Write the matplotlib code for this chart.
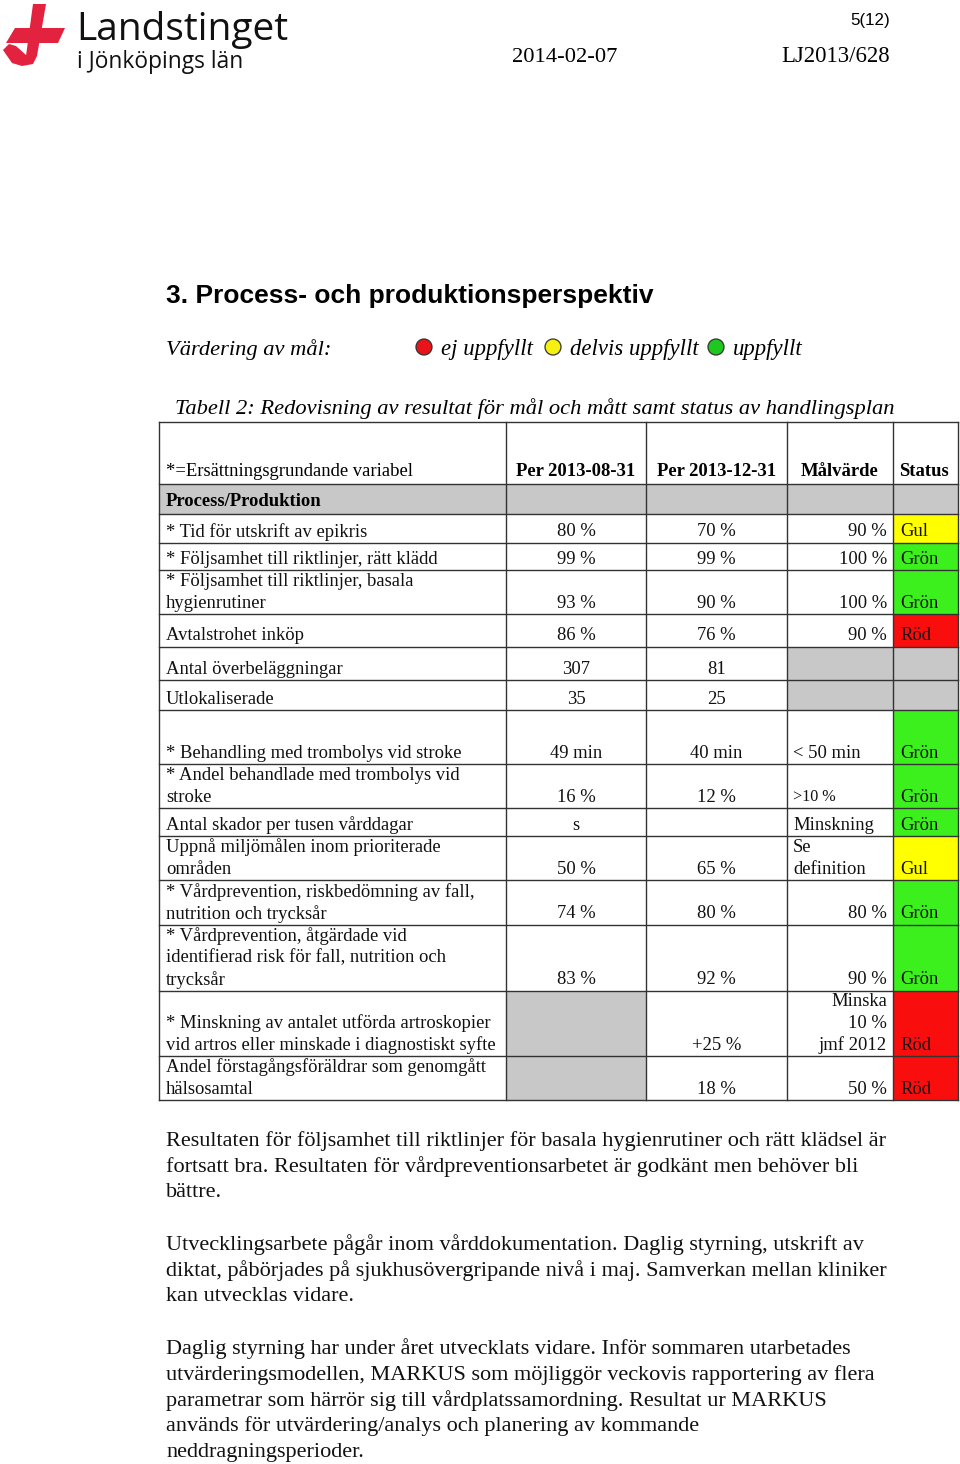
import matplotlib
matplotlib.use("Agg")
import matplotlib.pyplot as plt
from matplotlib.patches import Polygon, Rectangle, Circle

# ── table content ──
header = ["*=Ersättningsgrundande variabel", "Per 2013-08-31", "Per 2013-12-31", "Målvärde", "Status"]
section = "Process/Produktion"

labels = [
    "* Tid för utskrift av epikris",
    "* Följsamhet till riktlinjer, rätt klädd",
    "* Följsamhet till riktlinjer, basala\nhygienrutiner",
    "Avtalstrohet inköp",
    "Antal överbeläggningar",
    "Utlokaliserade",
    "* Behandling med trombolys vid stroke",
    "* Andel behandlade med trombolys vid\nstroke",
    "Antal skador per tusen vårddagar",
    "Uppnå miljömålen inom prioriterade\nområden",
    "* Vårdprevention, riskbedömning av fall,\nnutrition och trycksår",
    "* Vårdprevention, åtgärdade vid\nidentifierad risk för fall, nutrition och\ntrycksår",
    "* Minskning av antalet utförda artroskopier\nvid artros eller minskade i diagnostiskt syfte",
    "Andel förstagångsföräldrar som genomgått\nhälsosamtal",
]
per_aug = ["80 %", "99 %", "93 %", "86 %", "307", "35", "49 min", "16 %", "s", "50 %",
           "74 %", "83 %", None, None]
per_dec = ["70 %", "99 %", "90 %", "76 %", "81", "25", "40 min", "12 %", "", "65 %",
           "80 %", "92 %", "+25 %", "18 %"]
malvarde = ["90 %", "100 %", "100 %", "90 %", None, None, "< 50 min", ">10 %", "Minskning",
            "Se\ndefinition", "80 %", "90 %", "Minska\n10 %\njmf 2012", "50 %"]
status = ["Gul", "Grön", "Grön", "Röd", None, None, "Grön", "Grön", "Grön", "Gul",
          "Grön", "Grön", "Röd", "Röd"]

paragraphs = [
    "Resultaten för följsamhet till riktlinjer för basala hygienrutiner och rätt klädsel är\n"
    "fortsatt bra. Resultaten för vårdpreventionsarbetet är godkänt men behöver bli\n"
    "bättre.",
    "Utvecklingsarbete pågår inom vårddokumentation. Daglig styrning, utskrift av\n"
    "diktat, påbörjades på sjukhusövergripande nivå i maj. Samverkan mellan kliniker\n"
    "kan utvecklas vidare.",
    "Daglig styrning har under året utvecklats vidare. Inför sommaren utarbetades\n"
    "utvärderingsmodellen, MARKUS som möjliggör veckovis rapportering av flera\n"
    "parametrar som härrör sig till vårdplatssamordning. Resultat ur MARKUS\n"
    "används för utvärdering/analys och planering av kommande\n"
    "neddragningsperioder.",
]

# ── layout (pixels) ──
COLS = [159, 506, 646, 787, 893, 958]
ROW_BOTTOMS = [543, 570, 614, 647, 680, 710, 764, 808, 836, 880, 925, 991, 1056, 1100]
TOP, HEAD_BOT, SEC_BOT = 422, 484, 514
LINE = 22
STATUS_COL = {"Gul": "#ffff00", "Grön": "#3cf01e", "Röd": "#fa0d0d"}
GRAY = "#c8c8c8"
SERIF = "Liberation Serif"
SANS = "Liberation Sans"
FS = 13.4

fig = plt.figure(figsize=(9.6, 14.64), dpi=100)
ax = fig.add_axes([0, 0, 1, 1])
ax.set_xlim(0, 960)
ax.set_ylim(1464, 0)
ax.axis("off")

# ── logo ──
red = "#e2223e"
ax.add_patch(Polygon([(33, 4), (46, 4), (37, 56), (26, 56)], closed=True, color=red, lw=0))
ax.add_patch(Polygon([(15, 28), (65, 28), (58, 43), (6, 43)], closed=True, color=red, lw=0))
ax.add_patch(Polygon([(3, 50), (9, 44), (16, 46), (26, 55), (37, 56), (33, 64), (22, 66), (12, 63)],
                     closed=True, color=red, lw=0))
ax.text(76, 30, "Landstinget", fontsize=28, family="Open Sans", va="center", ha="left", color="#111")
ax.text(77, 62, "i Jönköpings län", fontsize=16.4, family="Open Sans", va="center", ha="left", color="#111")

ax.text(890, 20, "5(12)", fontsize=12.2, family=SANS, va="center", ha="right")
ax.text(512, 57, "2014-02-07", fontsize=16.2, family=SERIF, va="center", ha="left")
ax.text(890, 57, "LJ2013/628", fontsize=16.4, family=SERIF, va="center", ha="right")

# ── headings ──
ax.text(166, 296, "3. Process- och produktionsperspektiv", fontsize=19, family=SANS,
        weight="bold", va="center", ha="left")
ax.text(166, 350, "Värdering av mål:", fontsize=16.2, family=SERIF, style="italic", va="center")
for cx, col, txt in [(424, "#e8141a", "ej uppfyllt"), (553, "#f5f00f", "delvis uppfyllt"),
                     (716, "#1ec81e", "uppfyllt")]:
    ax.add_patch(Circle((cx, 347), 8, facecolor=col, edgecolor="#333", lw=0.9))
    ax.text(cx + 17, 350, txt, fontsize=16.4, family=SERIF, style="italic", va="center")
ax.text(175, 409, "Tabell 2: Redovisning av resultat för mål och mått samt status av handlingsplan",
        fontsize=16.2, family=SERIF, style="italic", va="center")

# ── table backgrounds ──
ax.add_patch(Rectangle((COLS[0], HEAD_BOT), COLS[-1] - COLS[0], SEC_BOT - HEAD_BOT, color=GRAY, lw=0))
tops = [SEC_BOT] + ROW_BOTTOMS[:-1]
for i in range(len(labels)):
    y0, y1 = tops[i], ROW_BOTTOMS[i]
    if per_aug[i] is None:
        ax.add_patch(Rectangle((COLS[1], y0), COLS[2] - COLS[1], y1 - y0, color=GRAY, lw=0))
    if malvarde[i] is None:
        ax.add_patch(Rectangle((COLS[3], y0), COLS[4] - COLS[3], y1 - y0, color=GRAY, lw=0))
    fc = STATUS_COL.get(status[i], GRAY)
    ax.add_patch(Rectangle((COLS[4], y0), COLS[5] - COLS[4], y1 - y0, color=fc, lw=0))

# ── grid lines ──
lc = "#333333"
for y in [TOP, HEAD_BOT, SEC_BOT] + ROW_BOTTOMS:
    ax.plot([COLS[0], COLS[-1]], [y, y], color=lc, lw=1.0)
for x in COLS:
    ax.plot([x, x], [TOP, ROW_BOTTOMS[-1]], color=lc, lw=1.0)

# ── header text ──
hy = HEAD_BOT - 12
ax.text(166, hy, header[0], fontsize=FS, family=SERIF, va="center")
for j in (1, 2, 3):
    ax.text((COLS[j] + COLS[j + 1]) / 2, hy, header[j], fontsize=FS, family=SERIF,
            weight="bold", va="center", ha="center")
ax.text(899, hy, header[4], fontsize=FS, family=SERIF, weight="bold", va="center")
ax.text(166, SEC_BOT - 13, section, fontsize=FS, family=SERIF, weight="bold", va="center")


def cell_lines(x, ybot, text, ha, size=FS):
    lines = text.split("\n")
    for k, ln in enumerate(lines):
        yc = ybot - 11 - (len(lines) - 1 - k) * LINE
        ax.text(x, yc, ln, fontsize=size, family=SERIF, va="center", ha=ha, color="#111")


left_target = ("< 50 min", ">10 %", "Minskning", "Se\ndefinition")
for i in range(len(labels)):
    yb = ROW_BOTTOMS[i]
    cell_lines(166, yb, labels[i], "left")
    if per_aug[i]:
        cell_lines((COLS[1] + COLS[2]) / 2, yb, per_aug[i], "center")
    if per_dec[i]:
        cell_lines((COLS[2] + COLS[3]) / 2, yb, per_dec[i], "center")
    if malvarde[i]:
        if malvarde[i] in left_target:
            cell_lines(793, yb, malvarde[i], "left", FS - 1.8 if malvarde[i] == ">10 %" else FS)
        else:
            cell_lines(887, yb, malvarde[i], "right")
    if status[i]:
        cell_lines(900, yb, status[i], "left")

# ── body paragraphs ──
for y, para in zip([1141, 1245, 1349], paragraphs):
    for k, ln in enumerate(para.split("\n")):
        ax.text(166, y + k * 25.8, ln, fontsize=16, family=SERIF, va="center", ha="left", color="#111")

fig.savefig("out.png", dpi=100)
